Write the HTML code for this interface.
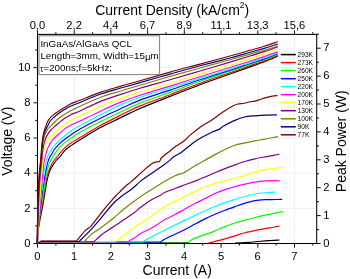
<!DOCTYPE html>
<html><head><meta charset="utf-8"><title>QCL LIV</title><style>html,body{margin:0;padding:0;background:#fff;overflow:hidden}</style></head><body>
<svg width="350" height="279" viewBox="0 0 350 279" style="display:block;will-change:transform;filter:blur(0.35px);font-family:'Liberation Sans',sans-serif">
<rect width="350" height="279" fill="#fff"/>
<g stroke="#efefef" stroke-width="1"><line x1="74.2" y1="34.4" x2="74.2" y2="243.5"/><line x1="110.9" y1="34.4" x2="110.9" y2="243.5"/><line x1="147.6" y1="34.4" x2="147.6" y2="243.5"/><line x1="184.3" y1="34.4" x2="184.3" y2="243.5"/><line x1="221.1" y1="34.4" x2="221.1" y2="243.5"/><line x1="257.8" y1="34.4" x2="257.8" y2="243.5"/><line x1="294.5" y1="34.4" x2="294.5" y2="243.5"/><line x1="37.5" y1="208.3" x2="316.7" y2="208.3"/><line x1="37.5" y1="173.1" x2="316.7" y2="173.1"/><line x1="37.5" y1="138.0" x2="316.7" y2="138.0"/><line x1="37.5" y1="102.8" x2="316.7" y2="102.8"/><line x1="37.5" y1="67.6" x2="316.7" y2="67.6"/></g>
<rect x="37.5" y="34.4" width="279.2" height="209.1" fill="none" stroke="#000" stroke-width="1.05"/><g stroke="#000" stroke-width="0.95"><line x1="37.5" y1="243.5" x2="37.5" y2="247.7"/><line x1="37.5" y1="34.4" x2="37.5" y2="30.4"/><line x1="55.9" y1="243.5" x2="55.9" y2="245.6"/><line x1="55.9" y1="34.4" x2="55.9" y2="32.2"/><line x1="74.2" y1="243.5" x2="74.2" y2="247.7"/><line x1="74.2" y1="34.4" x2="74.2" y2="30.4"/><line x1="92.6" y1="243.5" x2="92.6" y2="245.6"/><line x1="92.6" y1="34.4" x2="92.6" y2="32.2"/><line x1="110.9" y1="243.5" x2="110.9" y2="247.7"/><line x1="110.9" y1="34.4" x2="110.9" y2="30.4"/><line x1="129.3" y1="243.5" x2="129.3" y2="245.6"/><line x1="129.3" y1="34.4" x2="129.3" y2="32.2"/><line x1="147.6" y1="243.5" x2="147.6" y2="247.7"/><line x1="147.6" y1="34.4" x2="147.6" y2="30.4"/><line x1="166.0" y1="243.5" x2="166.0" y2="245.6"/><line x1="166.0" y1="34.4" x2="166.0" y2="32.2"/><line x1="184.3" y1="243.5" x2="184.3" y2="247.7"/><line x1="184.3" y1="34.4" x2="184.3" y2="30.4"/><line x1="202.7" y1="243.5" x2="202.7" y2="245.6"/><line x1="202.7" y1="34.4" x2="202.7" y2="32.2"/><line x1="221.1" y1="243.5" x2="221.1" y2="247.7"/><line x1="221.1" y1="34.4" x2="221.1" y2="30.4"/><line x1="239.4" y1="243.5" x2="239.4" y2="245.6"/><line x1="239.4" y1="34.4" x2="239.4" y2="32.2"/><line x1="257.8" y1="243.5" x2="257.8" y2="247.7"/><line x1="257.8" y1="34.4" x2="257.8" y2="30.4"/><line x1="276.1" y1="243.5" x2="276.1" y2="245.6"/><line x1="276.1" y1="34.4" x2="276.1" y2="32.2"/><line x1="294.5" y1="243.5" x2="294.5" y2="247.7"/><line x1="294.5" y1="34.4" x2="294.5" y2="30.4"/><line x1="312.8" y1="243.5" x2="312.8" y2="245.6"/><line x1="312.8" y1="34.4" x2="312.8" y2="32.2"/><line x1="37.5" y1="243.5" x2="33.5" y2="243.5"/><line x1="37.5" y1="225.9" x2="35.2" y2="225.9"/><line x1="37.5" y1="208.3" x2="33.5" y2="208.3"/><line x1="37.5" y1="190.7" x2="35.2" y2="190.7"/><line x1="37.5" y1="173.1" x2="33.5" y2="173.1"/><line x1="37.5" y1="155.6" x2="35.2" y2="155.6"/><line x1="37.5" y1="138.0" x2="33.5" y2="138.0"/><line x1="37.5" y1="120.4" x2="35.2" y2="120.4"/><line x1="37.5" y1="102.8" x2="33.5" y2="102.8"/><line x1="37.5" y1="85.2" x2="35.2" y2="85.2"/><line x1="37.5" y1="67.6" x2="33.5" y2="67.6"/><line x1="37.5" y1="50.0" x2="35.2" y2="50.0"/><line x1="316.7" y1="243.5" x2="320.7" y2="243.5"/><line x1="316.7" y1="229.6" x2="319.0" y2="229.6"/><line x1="316.7" y1="215.6" x2="320.7" y2="215.6"/><line x1="316.7" y1="201.7" x2="319.0" y2="201.7"/><line x1="316.7" y1="187.7" x2="320.7" y2="187.7"/><line x1="316.7" y1="173.8" x2="319.0" y2="173.8"/><line x1="316.7" y1="159.8" x2="320.7" y2="159.8"/><line x1="316.7" y1="145.9" x2="319.0" y2="145.9"/><line x1="316.7" y1="131.9" x2="320.7" y2="131.9"/><line x1="316.7" y1="118.0" x2="319.0" y2="118.0"/><line x1="316.7" y1="104.0" x2="320.7" y2="104.0"/><line x1="316.7" y1="90.1" x2="319.0" y2="90.1"/><line x1="316.7" y1="76.1" x2="320.7" y2="76.1"/><line x1="316.7" y1="62.2" x2="319.0" y2="62.2"/><line x1="316.7" y1="48.2" x2="320.7" y2="48.2"/><line x1="316.7" y1="34.2" x2="319.0" y2="34.2"/></g>
<g>
<path fill="none" stroke="#000000" stroke-width="1.15" stroke-linejoin="round" d="M37.50,243.30 C37.58,241.33 37.60,235.38 38.00,231.50 C38.40,227.62 39.18,223.92 39.90,220.00 C40.62,216.08 41.63,211.50 42.30,208.00 C42.97,204.50 43.33,202.33 43.90,199.00 C44.47,195.67 45.20,190.97 45.70,188.00 C46.20,185.03 46.42,183.48 46.90,181.20 C47.38,178.92 48.03,176.20 48.60,174.30 C49.17,172.40 49.53,171.42 50.30,169.80 C51.07,168.18 52.15,166.23 53.20,164.60 C54.25,162.97 55.37,161.43 56.60,160.00 C57.83,158.57 59.25,157.57 60.60,156.00 C61.95,154.43 63.07,152.25 64.70,150.60 C66.33,148.95 67.85,147.90 70.40,146.10 C72.95,144.30 75.07,142.85 80.00,139.80 C84.93,136.75 93.33,131.43 100.00,127.80 C106.67,124.17 113.33,121.22 120.00,118.00 C126.67,114.78 131.67,112.10 140.00,108.50 C148.33,104.90 160.00,100.37 170.00,96.40 C180.00,92.43 190.00,88.43 200.00,84.70 C210.00,80.97 221.67,76.97 230.00,74.00 C238.33,71.03 244.17,68.98 250.00,66.90 C255.83,64.82 260.38,63.30 265.00,61.50 C269.62,59.70 275.58,57.00 277.70,56.10"/>
<path fill="none" stroke="#ff0000" stroke-width="1.15" stroke-linejoin="round" d="M37.50,243.30 C37.57,241.33 37.57,235.38 37.90,231.50 C38.23,227.62 38.88,223.92 39.50,220.00 C40.12,216.08 40.98,211.50 41.60,208.00 C42.22,204.50 42.65,202.33 43.20,199.00 C43.75,195.67 44.42,190.97 44.90,188.00 C45.38,185.03 45.67,183.38 46.10,181.20 C46.53,179.02 46.98,176.80 47.50,174.90 C48.02,173.00 48.53,171.52 49.20,169.80 C49.87,168.08 50.65,166.23 51.50,164.60 C52.35,162.97 53.25,161.43 54.30,160.00 C55.35,158.57 56.75,157.27 57.80,156.00 C58.85,154.73 59.45,153.77 60.60,152.40 C61.75,151.03 63.07,149.33 64.70,147.80 C66.33,146.27 67.85,144.92 70.40,143.20 C72.95,141.48 75.07,140.40 80.00,137.50 C84.93,134.60 93.33,129.47 100.00,125.80 C106.67,122.13 113.33,118.82 120.00,115.50 C126.67,112.18 131.67,109.37 140.00,105.90 C148.33,102.43 160.00,98.48 170.00,94.70 C180.00,90.92 190.00,86.87 200.00,83.20 C210.00,79.53 221.67,75.60 230.00,72.70 C238.33,69.80 244.17,67.82 250.00,65.80 C255.83,63.78 260.38,62.35 265.00,60.60 C269.62,58.85 275.58,56.18 277.70,55.30"/>
<path fill="none" stroke="#00ff00" stroke-width="1.15" stroke-linejoin="round" d="M37.50,243.30 C37.55,241.33 37.53,235.38 37.80,231.50 C38.07,227.62 38.58,223.92 39.10,220.00 C39.62,216.08 40.33,211.50 40.90,208.00 C41.47,204.50 41.93,202.33 42.50,199.00 C43.07,195.67 43.67,192.12 44.30,188.00 C44.93,183.88 45.68,177.72 46.30,174.30 C46.92,170.88 47.33,169.68 48.00,167.50 C48.67,165.32 49.43,163.12 50.30,161.20 C51.17,159.28 52.33,157.38 53.20,156.00 C54.07,154.62 54.55,154.27 55.50,152.90 C56.45,151.53 57.37,149.52 58.90,147.80 C60.43,146.08 62.78,144.13 64.70,142.60 C66.62,141.07 67.85,140.32 70.40,138.60 C72.95,136.88 75.07,135.10 80.00,132.30 C84.93,129.50 93.33,125.15 100.00,121.80 C106.67,118.45 113.33,115.33 120.00,112.20 C126.67,109.07 131.67,106.30 140.00,103.00 C148.33,99.70 160.00,96.02 170.00,92.40 C180.00,88.78 190.00,84.83 200.00,81.30 C210.00,77.77 221.67,74.02 230.00,71.20 C238.33,68.38 244.17,66.37 250.00,64.40 C255.83,62.43 260.38,61.05 265.00,59.40 C269.62,57.75 275.58,55.32 277.70,54.50"/>
<path fill="none" stroke="#0000ff" stroke-width="1.15" stroke-linejoin="round" d="M37.50,243.30 C37.53,241.33 37.48,235.38 37.70,231.50 C37.92,227.62 38.37,223.92 38.80,220.00 C39.23,216.08 39.83,211.50 40.30,208.00 C40.77,204.50 41.13,202.33 41.60,199.00 C42.07,195.67 42.60,191.53 43.10,188.00 C43.60,184.47 44.07,181.03 44.60,177.80 C45.13,174.57 45.73,171.28 46.30,168.60 C46.87,165.92 47.33,163.80 48.00,161.70 C48.67,159.60 49.72,157.17 50.30,156.00 C50.88,154.83 50.83,155.78 51.50,154.70 C52.17,153.62 53.07,151.23 54.30,149.50 C55.53,147.77 57.17,146.02 58.90,144.30 C60.63,142.58 62.78,140.72 64.70,139.20 C66.62,137.68 67.85,136.92 70.40,135.20 C72.95,133.48 75.07,131.70 80.00,128.90 C84.93,126.10 93.33,121.73 100.00,118.40 C106.67,115.07 113.33,111.95 120.00,108.90 C126.67,105.85 131.67,103.23 140.00,100.10 C148.33,96.97 160.00,93.48 170.00,90.10 C180.00,86.72 190.00,83.13 200.00,79.80 C210.00,76.47 221.67,72.82 230.00,70.10 C238.33,67.38 244.17,65.42 250.00,63.50 C255.83,61.58 260.38,60.22 265.00,58.60 C269.62,56.98 275.58,54.60 277.70,53.80"/>
<path fill="none" stroke="#00ffff" stroke-width="1.15" stroke-linejoin="round" d="M37.50,243.30 C37.53,241.33 37.52,235.38 37.70,231.50 C37.88,227.62 38.25,223.92 38.60,220.00 C38.95,216.08 39.42,211.50 39.80,208.00 C40.18,204.50 40.48,202.33 40.90,199.00 C41.32,195.67 41.73,192.68 42.30,188.00 C42.87,183.32 43.73,175.08 44.30,170.90 C44.87,166.72 45.12,165.38 45.70,162.90 C46.28,160.42 46.93,158.05 47.80,156.00 C48.67,153.95 49.82,152.35 50.90,150.60 C51.98,148.85 52.97,147.12 54.30,145.50 C55.63,143.88 57.17,142.53 58.90,140.90 C60.63,139.27 62.78,137.32 64.70,135.70 C66.62,134.08 67.85,132.90 70.40,131.20 C72.95,129.50 75.07,128.20 80.00,125.50 C84.93,122.80 93.33,118.40 100.00,115.00 C106.67,111.60 113.33,108.05 120.00,105.10 C126.67,102.15 131.67,100.17 140.00,97.30 C148.33,94.43 160.00,91.05 170.00,87.90 C180.00,84.75 190.00,81.52 200.00,78.40 C210.00,75.28 221.67,71.83 230.00,69.20 C238.33,66.57 244.17,64.50 250.00,62.60 C255.83,60.70 260.38,59.38 265.00,57.80 C269.62,56.22 275.58,53.88 277.70,53.10"/>
<path fill="none" stroke="#ff00ff" stroke-width="1.15" stroke-linejoin="round" d="M37.20,243.00 C37.92,233.83 40.40,201.17 41.50,188.00 C42.60,174.83 43.18,169.17 43.80,164.00 C44.42,158.83 44.85,158.62 45.20,157.00 C45.55,155.38 45.52,155.65 45.90,154.30 C46.28,152.95 46.85,150.57 47.50,148.90 C48.15,147.23 48.85,145.92 49.80,144.30 C50.75,142.68 51.68,140.92 53.20,139.20 C54.72,137.48 56.98,135.72 58.90,134.00 C60.82,132.28 62.98,130.23 64.70,128.90 C66.42,127.57 66.65,127.32 69.20,126.00 C71.75,124.68 74.87,123.43 80.00,121.00 C85.13,118.57 93.33,114.50 100.00,111.40 C106.67,108.30 113.33,105.10 120.00,102.40 C126.67,99.70 131.67,97.92 140.00,95.20 C148.33,92.48 160.00,89.18 170.00,86.10 C180.00,83.02 190.00,79.80 200.00,76.70 C210.00,73.60 221.67,70.08 230.00,67.50 C238.33,64.92 244.17,63.07 250.00,61.20 C255.83,59.33 260.38,57.85 265.00,56.30 C269.62,54.75 275.58,52.63 277.70,51.90"/>
<path fill="none" stroke="#ffff00" stroke-width="1.15" stroke-linejoin="round" d="M37.20,243.00 C37.77,233.83 39.63,202.33 40.60,188.00 C41.57,173.67 42.52,162.93 43.00,157.00 C43.48,151.07 43.13,154.22 43.50,152.40 C43.87,150.58 44.53,148.12 45.20,146.10 C45.87,144.08 46.55,142.03 47.50,140.30 C48.45,138.57 49.38,137.32 50.90,135.70 C52.42,134.08 54.83,132.05 56.60,130.60 C58.37,129.15 60.15,127.98 61.50,127.00 C62.85,126.02 63.22,125.77 64.70,124.70 C66.18,123.63 67.85,122.10 70.40,120.60 C72.95,119.10 75.07,118.05 80.00,115.70 C84.93,113.35 93.33,109.33 100.00,106.50 C106.67,103.67 113.33,101.10 120.00,98.70 C126.67,96.30 131.67,94.67 140.00,92.10 C148.33,89.53 160.00,86.30 170.00,83.30 C180.00,80.30 190.00,77.12 200.00,74.10 C210.00,71.08 221.67,67.73 230.00,65.20 C238.33,62.67 244.17,60.82 250.00,58.90 C255.83,56.98 260.38,55.35 265.00,53.70 C269.62,52.05 275.58,49.78 277.70,49.00"/>
<path fill="none" stroke="#800080" stroke-width="1.15" stroke-linejoin="round" d="M37.20,243.00 C37.57,233.83 38.60,202.17 39.40,188.00 C40.20,173.83 41.50,163.75 42.00,158.00 C42.50,152.25 42.17,155.40 42.40,153.50 C42.63,151.60 42.93,148.88 43.40,146.60 C43.87,144.32 44.52,141.80 45.20,139.80 C45.88,137.80 46.55,136.23 47.50,134.60 C48.45,132.97 49.72,131.35 50.90,130.00 C52.08,128.65 53.27,127.68 54.60,126.50 C55.93,125.32 57.22,124.27 58.90,122.90 C60.58,121.53 62.78,119.63 64.70,118.30 C66.62,116.97 67.85,116.13 70.40,114.90 C72.95,113.67 75.07,113.12 80.00,110.90 C84.93,108.68 93.33,104.32 100.00,101.60 C106.67,98.88 113.33,96.82 120.00,94.60 C126.67,92.38 131.67,90.77 140.00,88.30 C148.33,85.83 160.00,82.68 170.00,79.80 C180.00,76.92 190.00,73.95 200.00,71.00 C210.00,68.05 221.67,64.60 230.00,62.10 C238.33,59.60 244.17,57.78 250.00,56.00 C255.83,54.22 260.38,52.92 265.00,51.40 C269.62,49.88 275.58,47.65 277.70,46.90"/>
<path fill="none" stroke="#808000" stroke-width="1.15" stroke-linejoin="round" d="M37.20,243.00 C37.48,233.83 38.18,202.17 38.90,188.00 C39.62,173.83 40.93,164.90 41.50,158.00 C42.07,151.10 41.98,149.63 42.30,146.60 C42.62,143.57 42.92,141.90 43.40,139.80 C43.88,137.70 44.52,135.73 45.20,134.00 C45.88,132.27 46.65,130.65 47.50,129.40 C48.35,128.15 49.35,127.48 50.30,126.50 C51.25,125.52 51.77,124.87 53.20,123.50 C54.63,122.13 56.98,119.83 58.90,118.30 C60.82,116.77 62.78,115.53 64.70,114.30 C66.62,113.07 67.85,112.23 70.40,110.90 C72.95,109.57 75.07,108.53 80.00,106.30 C84.93,104.07 93.33,100.02 100.00,97.50 C106.67,94.98 113.33,93.25 120.00,91.20 C126.67,89.15 131.67,87.67 140.00,85.20 C148.33,82.73 160.00,79.27 170.00,76.40 C180.00,73.53 190.00,70.77 200.00,68.00 C210.00,65.23 221.67,62.12 230.00,59.80 C238.33,57.48 244.17,55.73 250.00,54.10 C255.83,52.47 260.38,51.35 265.00,50.00 C269.62,48.65 275.58,46.67 277.70,46.00"/>
<path fill="none" stroke="#000080" stroke-width="1.15" stroke-linejoin="round" d="M37.20,243.00 C37.43,233.83 37.93,202.17 38.60,188.00 C39.27,173.83 40.63,164.90 41.20,158.00 C41.77,151.10 41.63,150.22 42.00,146.60 C42.37,142.98 42.87,138.97 43.40,136.30 C43.93,133.63 44.52,132.28 45.20,130.60 C45.88,128.92 46.73,127.67 47.50,126.20 C48.27,124.73 48.85,123.20 49.80,121.80 C50.75,120.40 51.68,119.23 53.20,117.80 C54.72,116.37 56.98,114.58 58.90,113.20 C60.82,111.82 62.78,110.65 64.70,109.50 C66.62,108.35 67.85,107.47 70.40,106.30 C72.95,105.13 75.07,104.50 80.00,102.50 C84.93,100.50 93.33,96.67 100.00,94.30 C106.67,91.93 113.33,90.25 120.00,88.30 C126.67,86.35 131.67,84.97 140.00,82.60 C148.33,80.23 160.00,76.90 170.00,74.10 C180.00,71.30 190.00,68.48 200.00,65.80 C210.00,63.12 221.67,60.25 230.00,58.00 C238.33,55.75 244.17,53.95 250.00,52.30 C255.83,50.65 260.38,49.47 265.00,48.10 C269.62,46.73 275.58,44.77 277.70,44.10"/>
<path fill="none" stroke="#800000" stroke-width="1.15" stroke-linejoin="round" d="M37.20,243.00 C37.38,233.83 37.70,202.17 38.30,188.00 C38.90,173.83 40.27,164.52 40.80,158.00 C41.33,151.48 41.20,152.13 41.50,148.90 C41.80,145.67 42.18,141.47 42.60,138.60 C43.02,135.73 43.52,133.63 44.00,131.70 C44.48,129.77 44.92,128.65 45.50,127.00 C46.08,125.35 46.78,123.25 47.50,121.80 C48.22,120.35 48.85,119.45 49.80,118.30 C50.75,117.15 51.68,116.13 53.20,114.90 C54.72,113.67 56.98,112.13 58.90,110.90 C60.82,109.67 62.78,108.65 64.70,107.50 C66.62,106.35 67.85,105.20 70.40,104.00 C72.95,102.80 75.07,102.23 80.00,100.30 C84.93,98.37 93.33,94.72 100.00,92.40 C106.67,90.08 113.33,88.35 120.00,86.40 C126.67,84.45 131.67,83.08 140.00,80.70 C148.33,78.32 160.00,74.87 170.00,72.10 C180.00,69.33 190.00,66.78 200.00,64.10 C210.00,61.42 221.67,58.30 230.00,56.00 C238.33,53.70 244.17,51.97 250.00,50.30 C255.83,48.63 260.38,47.42 265.00,46.00 C269.62,44.58 275.58,42.50 277.70,41.80"/>
</g><g>
<path fill="none" stroke="#000000" stroke-width="1.20" stroke-linejoin="round" d="M235.00,243.20 C236.73,243.09 244.93,242.63 248.00,242.40 C251.07,242.17 255.33,241.74 258.00,241.50 C260.67,241.26 265.13,240.80 268.00,240.60 C270.87,240.40 277.97,240.08 279.50,240.00"/>
<path fill="none" stroke="#ff0000" stroke-width="1.20" stroke-linejoin="round" d="M208.40,243.20 C209.28,242.97 212.79,242.01 215.00,241.44 C217.21,240.88 222.33,239.70 225.00,238.95 C227.67,238.20 232.33,236.65 235.00,235.83 C237.67,235.00 241.93,233.57 245.00,232.79 C248.07,232.00 254.93,230.56 258.00,229.93 C261.07,229.31 265.13,228.61 268.00,228.12 C270.87,227.62 277.97,226.46 279.50,226.20"/>
<polyline fill="none" stroke="#158015" stroke-width="1.00" stroke-linejoin="round" points="37.8,243.2 38.8,242.8 40.9,242.6 189.0,242.6"/>
<path fill="none" stroke="#00ff00" stroke-width="1.20" stroke-linejoin="round" d="M188.50,242.60 C188.83,242.28 190.13,240.83 191.00,240.23 C191.87,239.63 193.13,238.83 195.00,238.09 C196.87,237.34 202.33,235.61 205.00,234.65 C207.67,233.69 212.33,231.92 215.00,230.85 C217.67,229.78 222.33,227.68 225.00,226.62 C227.67,225.57 232.33,223.84 235.00,222.97 C237.67,222.10 242.33,220.83 245.00,220.10 C247.67,219.37 252.33,218.19 255.00,217.53 C257.67,216.86 262.33,215.72 265.00,215.12 C267.67,214.53 272.56,213.53 275.00,213.04 C277.44,212.56 282.19,211.71 283.30,211.50"/>
<polyline fill="none" stroke="#0000ff" stroke-width="1.00" stroke-linejoin="round" points="37.8,243.2 38.8,242.8 40.9,242.0 161.0,242.0"/>
<path fill="none" stroke="#0000ff" stroke-width="1.20" stroke-linejoin="round" d="M160.50,242.00 C161.10,241.60 163.07,240.06 165.00,239.03 C166.93,238.01 172.33,235.58 175.00,234.30 C177.67,233.02 182.33,230.81 185.00,229.45 C187.67,228.09 192.33,225.49 195.00,224.08 C197.67,222.66 202.33,220.17 205.00,218.85 C207.67,217.53 212.33,215.33 215.00,214.18 C217.67,213.02 222.33,211.21 225.00,210.20 C227.67,209.19 232.33,207.52 235.00,206.57 C237.67,205.63 242.33,203.90 245.00,203.10 C247.67,202.30 252.33,201.05 255.00,200.60 C257.67,200.15 262.80,199.84 265.00,199.72 C267.20,199.59 269.21,199.72 271.50,199.66 C273.79,199.61 280.77,199.35 282.20,199.30"/>
<polyline fill="none" stroke="#00ffff" stroke-width="1.00" stroke-linejoin="round" points="37.8,243.2 38.8,242.8 40.9,241.9 142.8,241.9"/>
<path fill="none" stroke="#00ffff" stroke-width="1.20" stroke-linejoin="round" d="M142.30,241.90 C143.53,241.23 148.47,238.46 151.50,236.87 C154.53,235.28 161.87,231.57 165.00,230.00 C168.13,228.43 172.33,226.42 175.00,225.10 C177.67,223.78 182.33,221.40 185.00,220.10 C187.67,218.80 192.33,216.59 195.00,215.35 C197.67,214.11 202.33,212.01 205.00,210.82 C207.67,209.64 212.33,207.54 215.00,206.45 C217.67,205.36 222.33,203.62 225.00,202.68 C227.67,201.73 232.33,200.20 235.00,199.35 C237.67,198.50 242.33,196.99 245.00,196.28 C247.67,195.56 252.33,194.47 255.00,194.00 C257.67,193.53 262.17,193.02 265.00,192.75 C267.83,192.48 274.71,192.10 276.20,192.00"/>
<polyline fill="none" stroke="#ff00ff" stroke-width="1.00" stroke-linejoin="round" points="37.8,243.2 38.8,242.8 40.9,241.8 127.9,241.8"/>
<path fill="none" stroke="#ff00ff" stroke-width="1.20" stroke-linejoin="round" d="M127.40,241.80 C128.33,241.30 132.63,239.17 134.40,238.05 C136.17,236.93 138.42,234.74 140.70,233.40 C142.98,232.06 148.26,229.84 151.50,228.00 C154.74,226.16 161.87,221.39 165.00,219.60 C168.13,217.81 172.33,215.97 175.00,214.55 C177.67,213.13 182.33,210.39 185.00,208.93 C187.67,207.46 192.33,204.94 195.00,203.55 C197.67,202.16 202.33,199.86 205.00,198.53 C207.67,197.19 212.33,194.76 215.00,193.57 C217.67,192.39 222.33,190.54 225.00,189.62 C227.67,188.71 232.33,187.42 235.00,186.70 C237.67,185.98 242.33,184.80 245.00,184.20 C247.67,183.60 252.33,182.61 255.00,182.18 C257.67,181.74 262.61,181.11 265.00,180.91 C267.39,180.71 270.93,180.68 272.90,180.68 C274.87,180.68 278.88,180.87 279.80,180.90"/>
<polyline fill="none" stroke="#ffff00" stroke-width="1.00" stroke-linejoin="round" points="37.8,243.2 38.8,242.8 40.9,241.7 116.1,241.7"/>
<path fill="none" stroke="#ffff00" stroke-width="1.20" stroke-linejoin="round" d="M115.60,241.70 C116.68,240.88 121.19,237.47 123.70,235.56 C126.21,233.66 132.13,229.05 134.40,227.41 C136.67,225.77 138.42,224.79 140.70,223.27 C142.98,221.74 148.26,218.21 151.50,215.97 C154.74,213.73 161.87,208.44 165.00,206.50 C168.13,204.56 172.33,202.77 175.00,201.40 C177.67,200.03 182.33,197.58 185.00,196.25 C187.67,194.92 192.33,192.63 195.00,191.40 C197.67,190.17 202.33,188.09 205.00,187.03 C207.67,185.96 212.33,184.27 215.00,183.43 C217.67,182.59 222.33,181.42 225.00,180.73 C227.67,180.03 232.33,178.95 235.00,178.23 C237.67,177.51 242.33,176.13 245.00,175.32 C247.67,174.52 252.33,172.94 255.00,172.18 C257.67,171.41 262.61,170.11 265.00,169.62 C267.39,169.13 270.55,168.76 272.90,168.49 C275.25,168.22 281.31,167.72 282.60,167.60"/>
<polyline fill="none" stroke="#800080" stroke-width="1.00" stroke-linejoin="round" points="37.8,243.2 38.8,242.8 40.9,241.7 94.6,241.7"/>
<path fill="none" stroke="#800080" stroke-width="1.20" stroke-linejoin="round" d="M94.10,241.70 C95.18,240.71 99.68,236.22 102.20,234.27 C104.72,232.32 110.13,229.01 113.00,227.09 C115.87,225.17 120.85,221.81 123.70,219.87 C126.55,217.94 132.13,214.26 134.40,212.59 C136.67,210.91 138.42,209.01 140.70,207.30 C142.98,205.59 148.86,201.41 151.50,199.80 C154.14,198.19 158.70,196.20 160.50,195.20 C162.30,194.20 163.07,193.20 165.00,192.30 C166.93,191.40 172.33,189.48 175.00,188.47 C177.67,187.47 182.33,185.71 185.00,184.72 C187.67,183.74 192.33,182.10 195.00,181.07 C197.67,180.05 202.33,178.15 205.00,177.03 C207.67,175.91 212.33,173.79 215.00,172.68 C217.67,171.56 222.33,169.72 225.00,168.68 C227.67,167.64 232.33,165.84 235.00,164.88 C237.67,163.91 242.33,162.27 245.00,161.48 C247.67,160.68 252.33,159.51 255.00,158.90 C257.67,158.29 262.33,157.41 265.00,156.90 C267.67,156.39 273.08,155.47 275.00,155.10 C276.92,154.72 278.81,154.23 279.40,154.10"/>
<polyline fill="none" stroke="#808000" stroke-width="1.00" stroke-linejoin="round" points="37.8,243.2 38.8,242.8 40.9,241.7 85.0,241.7"/>
<path fill="none" stroke="#808000" stroke-width="1.20" stroke-linejoin="round" d="M84.50,241.70 C85.43,240.69 89.14,236.12 91.50,234.14 C93.86,232.16 99.33,228.94 102.20,226.85 C105.07,224.76 110.13,220.84 113.00,218.49 C115.87,216.13 120.85,211.54 123.70,209.20 C126.55,206.85 132.03,202.67 134.40,200.90 C136.77,199.13 139.15,197.46 141.50,195.90 C143.85,194.34 148.87,191.15 152.00,189.20 C155.13,187.25 161.93,183.09 165.00,181.30 C168.07,179.51 173.00,176.79 175.00,175.80 C177.00,174.81 178.93,174.23 180.00,173.90 C181.07,173.57 182.20,173.62 183.00,173.30 C183.80,172.98 184.40,172.50 186.00,171.50 C187.60,170.50 192.47,167.31 195.00,165.80 C197.53,164.29 202.33,161.69 205.00,160.20 C207.67,158.71 212.33,156.03 215.00,154.60 C217.67,153.17 222.33,150.75 225.00,149.50 C227.67,148.25 232.33,146.08 235.00,145.20 C237.67,144.32 242.33,143.49 245.00,142.90 C247.67,142.31 252.33,141.29 255.00,140.80 C257.67,140.31 262.33,139.68 265.00,139.20 C267.67,138.72 273.27,137.55 275.00,137.20 C276.73,136.85 277.60,136.68 278.00,136.60"/>
<polyline fill="none" stroke="#000080" stroke-width="1.00" stroke-linejoin="round" points="37.8,243.2 38.8,242.8 40.9,241.5 79.6,241.5"/>
<path fill="none" stroke="#000080" stroke-width="1.20" stroke-linejoin="round" d="M79.10,241.50 C80.75,239.85 88.42,232.46 91.50,229.13 C94.58,225.80 99.33,219.91 102.20,216.52 C105.07,213.14 110.43,206.43 113.00,203.73 C115.57,201.03 119.03,198.24 121.50,196.30 C123.97,194.36 128.74,191.39 131.50,189.20 C134.26,187.01 139.35,182.14 142.20,179.90 C145.05,177.66 150.03,174.40 152.90,172.40 C155.77,170.40 161.42,166.53 163.70,164.90 C165.98,163.27 168.57,161.30 170.00,160.14 C171.43,158.99 172.97,157.24 174.40,156.25 C175.83,155.26 178.42,154.31 180.70,152.71 C182.98,151.10 189.45,145.81 191.50,144.22 C193.55,142.62 194.77,141.65 196.10,140.76 C197.43,139.88 199.35,138.73 201.50,137.57 C203.65,136.41 209.77,133.18 212.20,132.06 C214.63,130.93 218.27,129.85 219.70,129.11 C221.13,128.36 221.03,127.55 222.90,126.44 C224.77,125.34 230.83,122.08 233.70,120.83 C236.57,119.57 241.56,117.71 244.40,117.04 C247.24,116.37 252.15,116.06 255.00,115.80 C257.85,115.53 262.88,115.17 265.80,115.05 C268.72,114.93 275.42,114.92 276.90,114.90"/>
<polyline fill="none" stroke="#800000" stroke-width="1.00" stroke-linejoin="round" points="37.8,243.2 38.8,242.8 40.9,240.9 77.0,240.9"/>
<path fill="none" stroke="#800000" stroke-width="1.20" stroke-linejoin="round" d="M76.50,240.90 C77.63,239.56 83.00,232.92 85.00,230.88 C87.00,228.83 89.21,228.09 91.50,225.53 C93.79,222.97 99.33,215.26 102.20,211.70 C105.07,208.14 110.96,201.13 113.00,198.80 C115.04,196.47 115.90,195.81 117.50,194.20 C119.10,192.59 123.13,188.41 125.00,186.70 C126.87,184.99 129.21,183.40 131.50,181.40 C133.79,179.40 139.35,174.14 142.20,171.70 C145.05,169.26 150.61,164.47 152.90,163.10 C155.19,161.73 158.25,162.12 159.40,161.40 C160.55,160.68 160.09,159.13 161.50,157.74 C162.91,156.34 168.28,152.33 170.00,150.94 C171.72,149.55 172.97,148.38 174.40,147.35 C175.83,146.31 179.23,144.20 180.70,143.20 C182.17,142.19 184.07,140.95 185.40,139.81 C186.73,138.67 188.55,136.46 190.70,134.65 C192.85,132.85 198.63,128.27 201.50,126.28 C204.37,124.30 209.35,121.67 212.20,119.78 C215.05,117.88 220.03,113.97 222.90,112.07 C225.77,110.18 231.69,106.64 233.70,105.56 C235.71,104.49 236.57,104.32 238.00,104.02 C239.43,103.72 242.80,103.58 244.40,103.28 C246.00,102.97 248.59,102.03 250.00,101.75 C251.41,101.46 253.47,101.49 255.00,101.12 C256.53,100.75 259.21,99.65 261.50,98.99 C263.79,98.32 270.05,96.58 272.20,96.13 C274.35,95.68 276.88,95.67 277.60,95.60"/>
</g>
<rect x="39.0" y="35.8" width="120.6" height="38.8" fill="#fff" stroke="#808080" stroke-width="1"/>
<g font-size="9.8" fill="#000"><text transform="translate(40.4,47.3) scale(1,1.0)">InGaAs/AlGaAs QCL</text><text transform="translate(40.4,59.3) scale(1,1.0)">Length=3mm, Width=15<tspan font-size="9.8" dy="0.7">µ</tspan><tspan dy="-0.7">m</tspan></text><text transform="translate(40.0,70.9) scale(1,1.0)"><tspan font-size="8.6" dy="0.6">τ</tspan><tspan dy="-0.6">=200ns;f=5kHz;</tspan></text></g>
<g font-size="11.2" fill="#000"><text transform="translate(37.4,259.5) scale(1,1.05)" text-anchor="middle">0</text><text transform="translate(74.1,259.5) scale(1,1.05)" text-anchor="middle">1</text><text transform="translate(110.8,259.5) scale(1,1.05)" text-anchor="middle">2</text><text transform="translate(147.5,259.5) scale(1,1.05)" text-anchor="middle">3</text><text transform="translate(184.2,259.5) scale(1,1.05)" text-anchor="middle">4</text><text transform="translate(221.0,259.5) scale(1,1.05)" text-anchor="middle">5</text><text transform="translate(257.7,259.5) scale(1,1.05)" text-anchor="middle">6</text><text transform="translate(294.4,259.5) scale(1,1.05)" text-anchor="middle">7</text><text transform="translate(37.4,29.0) scale(1,1.05)" text-anchor="middle">0,0</text><text transform="translate(74.1,29.0) scale(1,1.05)" text-anchor="middle">2,2</text><text transform="translate(110.8,29.0) scale(1,1.05)" text-anchor="middle">4,4</text><text transform="translate(147.5,29.0) scale(1,1.05)" text-anchor="middle">6,7</text><text transform="translate(184.2,29.0) scale(1,1.05)" text-anchor="middle">8,9</text><text transform="translate(221.0,29.0) scale(1,1.05)" text-anchor="middle">11,1</text><text transform="translate(257.7,29.0) scale(1,1.05)" text-anchor="middle">13,3</text><text transform="translate(294.4,29.0) scale(1,1.05)" text-anchor="middle">15,6</text><text transform="translate(30.6,246.7) scale(1,1.05)" text-anchor="end">0</text><text transform="translate(30.6,211.5) scale(1,1.05)" text-anchor="end">2</text><text transform="translate(30.6,176.3) scale(1,1.05)" text-anchor="end">4</text><text transform="translate(30.6,141.2) scale(1,1.05)" text-anchor="end">6</text><text transform="translate(30.6,106.0) scale(1,1.05)" text-anchor="end">8</text><text transform="translate(30.6,70.8) scale(1,1.05)" text-anchor="end">10</text><text transform="translate(323.3,246.7) scale(1,1.05)" text-anchor="start">0</text><text transform="translate(323.3,218.8) scale(1,1.05)" text-anchor="start">1</text><text transform="translate(323.3,190.9) scale(1,1.05)" text-anchor="start">2</text><text transform="translate(323.3,163.0) scale(1,1.05)" text-anchor="start">3</text><text transform="translate(323.3,135.1) scale(1,1.05)" text-anchor="start">4</text><text transform="translate(323.3,107.2) scale(1,1.05)" text-anchor="start">5</text><text transform="translate(323.3,79.3) scale(1,1.05)" text-anchor="start">6</text><text transform="translate(323.3,51.4) scale(1,1.05)" text-anchor="start">7</text></g>
<g fill="#000">
<text transform="translate(142.6,275.3) scale(1,1.030)" font-size="14.00">Current (A)</text>
<text transform="translate(95.2,14.8) scale(1,1.030)" font-size="14.00">Current Density (kA/cm<tspan font-size="8.4" dy="-6.8">2</tspan><tspan dy="6.8">)</tspan></text>
<text transform="translate(11.6,175.7) rotate(-90) scale(1,1.030)" font-size="14.00">Voltage (V)</text>
<text transform="translate(346.0,192.2) rotate(-90) scale(1,1.030)" font-size="14.00">Peak Power (W)</text>
</g>
<g font-size="6.6" fill="#000"><line x1="280.8" y1="54.6" x2="295.8" y2="54.6" stroke="#000000" stroke-width="1.5"/><text x="297.6" y="56.9">293K</text><line x1="280.8" y1="62.6" x2="295.8" y2="62.6" stroke="#ff0000" stroke-width="1.5"/><text x="297.6" y="64.9">273K</text><line x1="280.8" y1="70.6" x2="295.8" y2="70.6" stroke="#00ff00" stroke-width="1.5"/><text x="297.6" y="72.9">260K</text><line x1="280.8" y1="78.7" x2="295.8" y2="78.7" stroke="#0000ff" stroke-width="1.5"/><text x="297.6" y="81.0">250K</text><line x1="280.8" y1="86.7" x2="295.8" y2="86.7" stroke="#00ffff" stroke-width="1.5"/><text x="297.6" y="89.0">220K</text><line x1="280.8" y1="94.7" x2="295.8" y2="94.7" stroke="#ff00ff" stroke-width="1.5"/><text x="297.6" y="97.0">200K</text><line x1="280.8" y1="102.7" x2="295.8" y2="102.7" stroke="#ffff00" stroke-width="1.5"/><text x="297.6" y="105.0">170K</text><line x1="280.8" y1="110.7" x2="295.8" y2="110.7" stroke="#800080" stroke-width="1.5"/><text x="297.6" y="113.0">130K</text><line x1="280.8" y1="118.8" x2="295.8" y2="118.8" stroke="#808000" stroke-width="1.5"/><text x="297.6" y="121.1">100K</text><line x1="280.8" y1="126.8" x2="295.8" y2="126.8" stroke="#000080" stroke-width="1.5"/><text x="297.6" y="129.1">90K</text><line x1="280.8" y1="134.8" x2="295.8" y2="134.8" stroke="#800000" stroke-width="1.5"/><text x="297.6" y="137.1">77K</text></g>
</svg>
</body></html>
